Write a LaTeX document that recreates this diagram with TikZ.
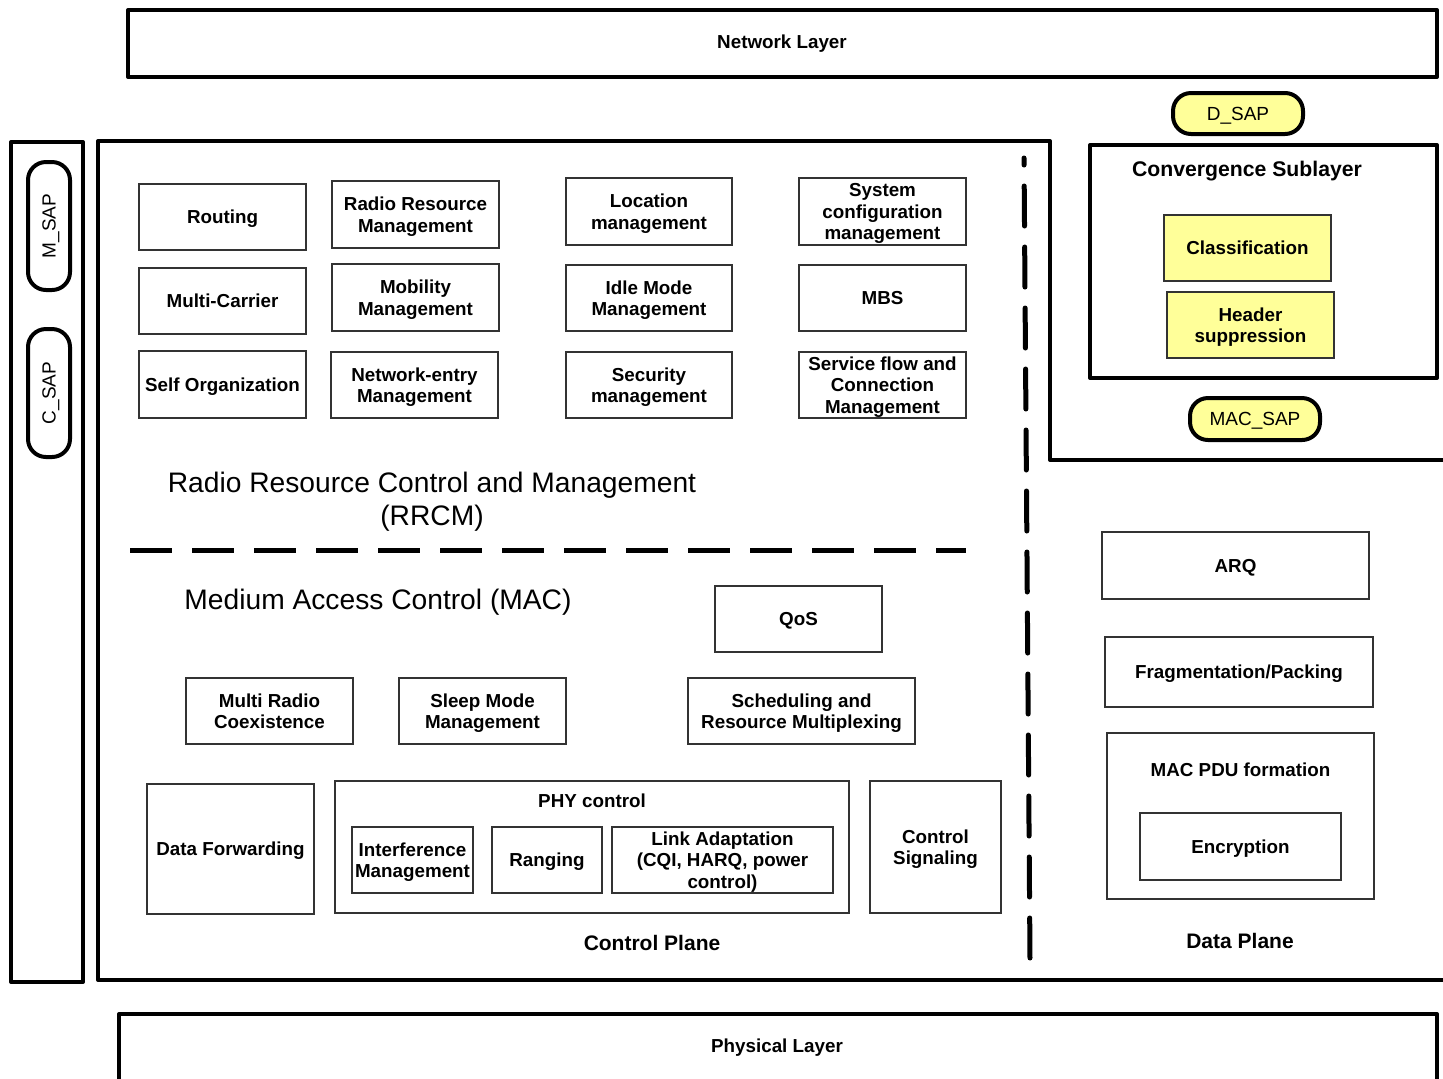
\documentclass[tikz,border=0pt]{standalone}
\usepackage{fontspec}
\setmainfont{Liberation Sans}
\usepackage{tikz}
\usetikzlibrary{calc}
\definecolor{sapyellow}{HTML}{FFFF99}
\newcommand{\bxfont}{\fontsize{9.4}{10.8}\selectfont\bfseries}
\newcommand{\bigfont}{\fontsize{14.1}{16.5}\selectfont}
\newcommand{\sapfont}{\fontsize{9.5}{11}\selectfont}
\tikzset{
  fn/.style={draw=black!80, line width=0.6pt, font=\bxfont, align=center, inner sep=0pt, text depth=0pt},
  sz/.style 2 args={minimum width=#1*0.5pt, minimum height=#2*0.5pt},
  thickbox/.style={line width=2pt, line join=round},
  sap/.style={draw, line width=2pt, rounded corners=9pt, font=\sapfont, inner sep=0pt, text depth=0pt},
  lbl/.style={font=\bxfont, align=center, inner sep=0pt, text depth=0pt},
  sep/.style={line width=2.5pt}
}
\begin{document}
\begin{tikzpicture}[x=0.5pt, y=-0.5pt]
\clip (0,0) rectangle (1443,1078);
\fill[white] (0,0) rectangle (1443,1078);

% layers
\draw[thickbox] (128,10) rectangle (1437,77);
\node[lbl] (netlayer) at (782,42) {Network Layer};
\draw[thickbox] (119,1014) rectangle (1437,1100);
\node[lbl] (phylayer) at (777,1046) {Physical Layer};

% management SAPs
\draw[thickbox] (11,142) rectangle (83,982);
\node[sap, sz={128}{42}, rotate=90] (msap) at (49,226) {M\_SAP};
\node[sap, sz={128}{42}, rotate=90] (csap) at (49,393) {C\_SAP};

% MAC outline
\draw[thickbox] (1450,460) -- (1050,460) -- (1050,141) -- (98,141) -- (98,980) -- (1450,980);

% RRCM functions
\node[fn, sz={167}{66}] (routing) at (222.5,217) {Routing};
\node[fn, sz={167}{67}] (rrm) at (415.5,214.5) {Radio Resource\\Management};
\node[fn, sz={166}{67}] (locmgmt) at (649,211.5) {Location\\management};
\node[fn, sz={167}{67}] (syscfg) at (882.5,211.5) {System\\configuration\\management};
\node[fn, sz={167}{66}] (multicarrier) at (222.5,301) {Multi-Carrier};
\node[fn, sz={167}{67}] (mobility) at (415.5,297.5) {Mobility\\Management};
\node[fn, sz={166}{66}] (idlemode) at (649,298) {Idle Mode\\Management};
\node[fn, sz={167}{66}] (mbs) at (882.5,298) {MBS};
\node[fn, sz={167}{67}] (selforg) at (222.5,384.5) {Self Organization};
\node[fn, sz={167}{66}] (netentry) at (414.5,385) {Network-entry\\Management};
\node[fn, sz={166}{66}] (secmgmt) at (649,385) {Security\\management};
\node[fn, sz={167}{66}] (sflow) at (882.5,385) {Service flow and\\Connection\\Management};
\node[font=\bigfont, align=center, inner sep=0pt, text depth=0pt] (rrcm) at (432,499) {Radio Resource Control and Management\\(RRCM)};

\draw[sep, dash pattern=on 21pt off 10pt] (130,550) -- (966,550);

% MAC functions
\node[font=\bigfont, inner sep=0pt, text depth=0pt] (mac) at (378,599) {Medium Access Control (MAC)};
\node[fn, sz={167}{66}] (qos) at (798.5,619) {QoS};
\node[fn, sz={167}{66}] (multiradio) at (269.5,711) {Multi Radio\\Coexistence};
\node[fn, sz={167}{66}] (sleepmode) at (482.5,711) {Sleep Mode\\Management};
\node[fn, sz={227}{66}] (sched) at (801.5,711) {Scheduling and\\Resource Multiplexing};
\node[fn, sz={167}{130}] (datafwd) at (230.5,849) {Data Forwarding};
\node[fn, sz={514}{132}] (phyctl) at (592,847) {};
\node[lbl] (phylbl) at (592,801) {PHY control};
\node[fn, sz={121}{66}] (interf) at (412.5,860) {Interference\\Management};
\node[fn, sz={110}{66}] (ranging) at (547,860) {Ranging};
\node[fn, sz={221}{66}] (linkadapt) at (722.5,860) {Link Adaptation\\(CQI, HARQ, power\\control)};
\node[fn, sz={131}{132}] (ctrlsig) at (935.5,847) {Control\\Signaling};
\node[lbl, font=\fontsize{10.5}{12}\selectfont\bfseries] (ctrlplane) at (652,943) {Control Plane};

\draw[sep, line cap=round, dash pattern=on 20pt off 10.5pt, dash phase=16.5pt] (1024,158) -- (1030,960);

% convergence sublayer
\node[sap, fill=sapyellow, sz={130}{41}] (dsap) at (1238,113.5) {D\_SAP};
\draw[thickbox] (1090,145) rectangle (1437,378);
\node[lbl, font=\fontsize{10.6}{12}\selectfont\bfseries] (cslbl) at (1247,169) {Convergence Sublayer};
\node[fn, fill=sapyellow, sz={167}{66}] (classif) at (1247.5,248) {Classification};
\node[fn, fill=sapyellow, sz={167}{66}] (hdrsup) at (1250.5,325) {Header\\suppression};
\node[sap, fill=sapyellow, sz={130}{42}] (macsap) at (1255,419) {MAC\_SAP};

% data plane
\node[fn, sz={267}{67}] (arq) at (1235.5,565.5) {ARQ};
\node[fn, sz={268}{70}] (fragpack) at (1239,672) {Fragmentation/Packing};
\node[fn, sz={267}{166}] (macpdu) at (1240.5,816) {};
\node[lbl] (pdulbl) at (1240.5,770) {MAC PDU formation};
\node[fn, sz={201}{67}] (encrypt) at (1240.5,846.5) {Encryption};
\node[lbl, font=\fontsize{10.5}{12}\selectfont\bfseries] (dataplane) at (1240,941) {Data Plane};
\end{tikzpicture}
\end{document}
